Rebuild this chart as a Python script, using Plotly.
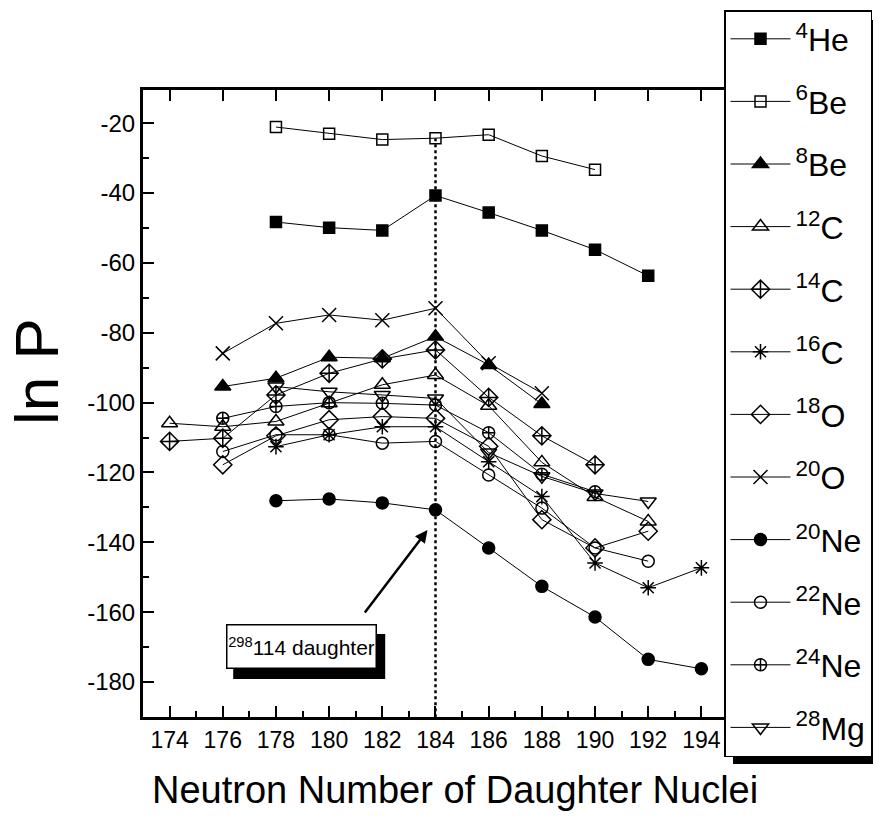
import plotly.graph_objects as go

FONT = "Liberation Sans, Arial, sans-serif"

# ---- data (ln P vs neutron number of daughter nuclei) ----
names = ["<sup>4</sup>He", "<sup>6</sup>Be", "<sup>8</sup>Be", "<sup>12</sup>C", "<sup>14</sup>C",
         "<sup>16</sup>C", "<sup>18</sup>O", "<sup>20</sup>O", "<sup>20</sup>Ne", "<sup>22</sup>Ne",
         "<sup>24</sup>Ne", "<sup>28</sup>Mg"]

he4_n = [178, 180, 182, 184, 186, 188, 190, 192]
he4_y = [-48.3, -49.9, -50.7, -40.7, -45.6, -50.7, -56.2, -63.7]

be6_n = [178, 180, 182, 184, 186, 188, 190]
be6_y = [-21.1, -23.0, -24.7, -24.3, -23.3, -29.4, -33.3]

be8_n = [176, 178, 180, 182, 184, 186, 188]
be8_y = [-95.4, -93.0, -87.0, -87.3, -81.1, -89.2, -100.4]

c12_n = [174, 176, 178, 180, 182, 184, 186, 188, 190, 192]
c12_y = [-105.9, -106.9, -105.4, -100.2, -94.9, -92.1, -100.9, -117.1, -127.0, -134.0]

c14_n = [174, 176, 178, 180, 182, 184, 186, 188, 190]
c14_y = [-111.1, -110.2, -97.8, -91.6, -87.5, -84.9, -98.5, -109.5, -117.8]

c16_n = [178, 180, 182, 184, 186, 188, 190, 192, 194]
c16_y = [-112.6, -109.2, -106.9, -106.9, -116.9, -126.9, -145.9, -153.0, -147.3]

o18_n = [176, 178, 180, 182, 184, 186, 188, 190, 192]
o18_y = [-117.8, -109.5, -104.9, -104.0, -104.5, -112.5, -133.5, -141.6, -136.8]

o20_n = [176, 178, 180, 182, 184, 186, 188]
o20_y = [-85.9, -77.3, -74.9, -76.4, -73.0, -88.7, -97.3]

ne20_n = [178, 180, 182, 184, 186, 188, 190, 192, 194]
ne20_y = [-128.1, -127.6, -128.7, -130.7, -141.6, -152.6, -161.4, -173.5, -176.2]

ne22_n = [176, 178, 180, 182, 184, 186, 188, 190, 192]
ne22_y = [-114.0, -109.2, -109.2, -111.6, -111.1, -120.7, -130.2, -141.6, -145.4]

ne24_n = [176, 178, 180, 182, 184, 186, 188, 190]
ne24_y = [-104.5, -101.1, -100.0, -100.2, -100.7, -108.6, -120.5, -125.5]

mg28_n = [178, 180, 182, 184, 186, 188, 190, 192]
mg28_y = [-95.4, -96.9, -97.8, -98.8, -114.3, -121.1, -126.0, -128.3]

marker_line_n = [184, 184]
marker_line_y = [-24.3, -190]

x_ticks = [174, 176, 178, 180, 182, 184, 186, 188, 190, 192, 194]
y_ticks = [-20, -40, -60, -80, -100, -120, -140, -160, -180]

series = [
    (he4_n, he4_y, "square", 11),
    (be6_n, be6_y, "square-open", 11),
    (be8_n, be8_y, "triangle-up", 14),
    (c12_n, c12_y, "triangle-up-open", 14),
    (c14_n, c14_y, "diamond-cross-open", 14),
    (c16_n, c16_y, "asterisk-open", 13),
    (o18_n, o18_y, "diamond-open", 14),
    (o20_n, o20_y, "x-thin-open", 14),
    (ne20_n, ne20_y, "circle", 12),
    (ne22_n, ne22_y, "circle-open", 12),
    (ne24_n, ne24_y, "circle-cross-open", 12),
    (mg28_n, mg28_y, "triangle-down-open", 14),
]

# ---- geometry helpers (layout only) ----
W, H = 882, 832
L, R, T, B = 143, 724, 90, 717


def px(xp):
    return (xp - L) / (R - L)


def py(yp):
    return (B - yp) / (B - T)


fig = go.Figure()

for i, (n, y, sym, sz) in enumerate(series):
    fig.add_trace(go.Scatter(
        x=n, y=y, mode="lines+markers", name=names[i],
        legendgroup=f"g{i}",
        line=dict(color="black", width=1),
        marker=dict(symbol=sym, size=sz, color="black",
                    line=dict(color="black", width=1.5)),
    ))

fig.add_trace(go.Scatter(
    x=marker_line_n, y=marker_line_y, mode="lines", showlegend=False,
    xaxis="x2", line=dict(color="black", width=2.5, dash="dot"),
))

fig.update_layout(
    width=W, height=H,
    margin=dict(l=L, r=W - R, t=T, b=H - B, autoexpand=False),
    paper_bgcolor="white", plot_bgcolor="white",
    font=dict(family=FONT, color="black"),
    xaxis=dict(
        range=[173.0, 194.85], tickvals=x_ticks, ticktext=[str(v) for v in x_ticks],
        ticks="inside", ticklen=11, tickwidth=2, tickcolor="black",
        minor=dict(dtick=1, tick0=173, ticks="inside", ticklen=6, tickwidth=2, tickcolor="black"),
        showline=True, linewidth=3, linecolor="black", mirror=True,
        showgrid=False, zeroline=False,
        tickfont=dict(size=23, family=FONT),
    ),
    xaxis2=dict(
        overlaying="x", matches="x", side="top", anchor="y",
        tickvals=x_ticks, ticks="inside", ticklen=11, tickwidth=2, tickcolor="black",
        showticklabels=False, showgrid=False, zeroline=False, showline=False,
    ),
    yaxis=dict(
        range=[-190, -10.5], tickvals=y_ticks, ticktext=[str(v) for v in y_ticks],
        ticks="inside", ticklen=11, tickwidth=2, tickcolor="black",
        minor=dict(dtick=10, tick0=-10, ticks="inside", ticklen=6, tickwidth=2, tickcolor="black"),
        showline=True, linewidth=3, linecolor="black", mirror=True,
        showgrid=False, zeroline=False,
        tickfont=dict(size=24, family=FONT),
    ),
    legend=dict(
        x=px(724), y=py(10), xanchor="left", yanchor="top",
        bgcolor="white", bordercolor="black", borderwidth=1.5,
        font=dict(size=32, family=FONT, color="black"),
        tracegroupgap=18, itemwidth=60, itemsizing="trace", maxheight=800,
    ),
    showlegend=True,
)

# legend drop shadow
fig.add_shape(type="rect", xref="paper", yref="paper",
              x0=px(865), x1=px(873), y0=py(764), y1=py(20),
              fillcolor="black", line=dict(width=0), layer="above")
fig.add_shape(type="rect", xref="paper", yref="paper",
              x0=px(733), x1=px(873), y0=py(764), y1=py(756),
              fillcolor="black", line=dict(width=0), layer="above")

# axis titles
fig.add_annotation(text="Neutron Number of Daughter Nuclei", xref="paper", yref="paper",
                   x=px(455), y=py(790), xanchor="center", yanchor="middle", showarrow=False,
                   font=dict(size=38, family=FONT, color="black"))
fig.add_annotation(text="ln P", xref="paper", yref="paper", textangle=-90,
                   x=px(36), y=py(372), xanchor="center", yanchor="middle", showarrow=False,
                   font=dict(size=62, family=FONT, color="black"))

# annotation box with shadow (shape) and arrow
box_x, box_y = 178.95, -169.7
fig.add_shape(type="rect", xref="x", yref="y",
              xsizemode="pixel", ysizemode="pixel", xanchor=box_x, yanchor=box_y,
              x0=-68, x1=84, y0=-33, y1=12,
              fillcolor="black", line=dict(width=0), layer="above")
fig.add_annotation(text="<sup>298</sup>114 daughter", x=box_x, y=box_y, xref="x", yref="y",
                   showarrow=False, width=146, height=40,
                   bgcolor="white", bordercolor="black", borderwidth=1.5,
                   font=dict(size=21, family=FONT, color="black"))
fig.add_annotation(text="", x=183.7, y=-136.5, xref="x", yref="y",
                   ax=181.3, ay=-160.5, axref="x", ayref="y",
                   showarrow=True, arrowhead=2, arrowsize=1, arrowwidth=2.5, arrowcolor="black")

fig.write_html("out.html")
